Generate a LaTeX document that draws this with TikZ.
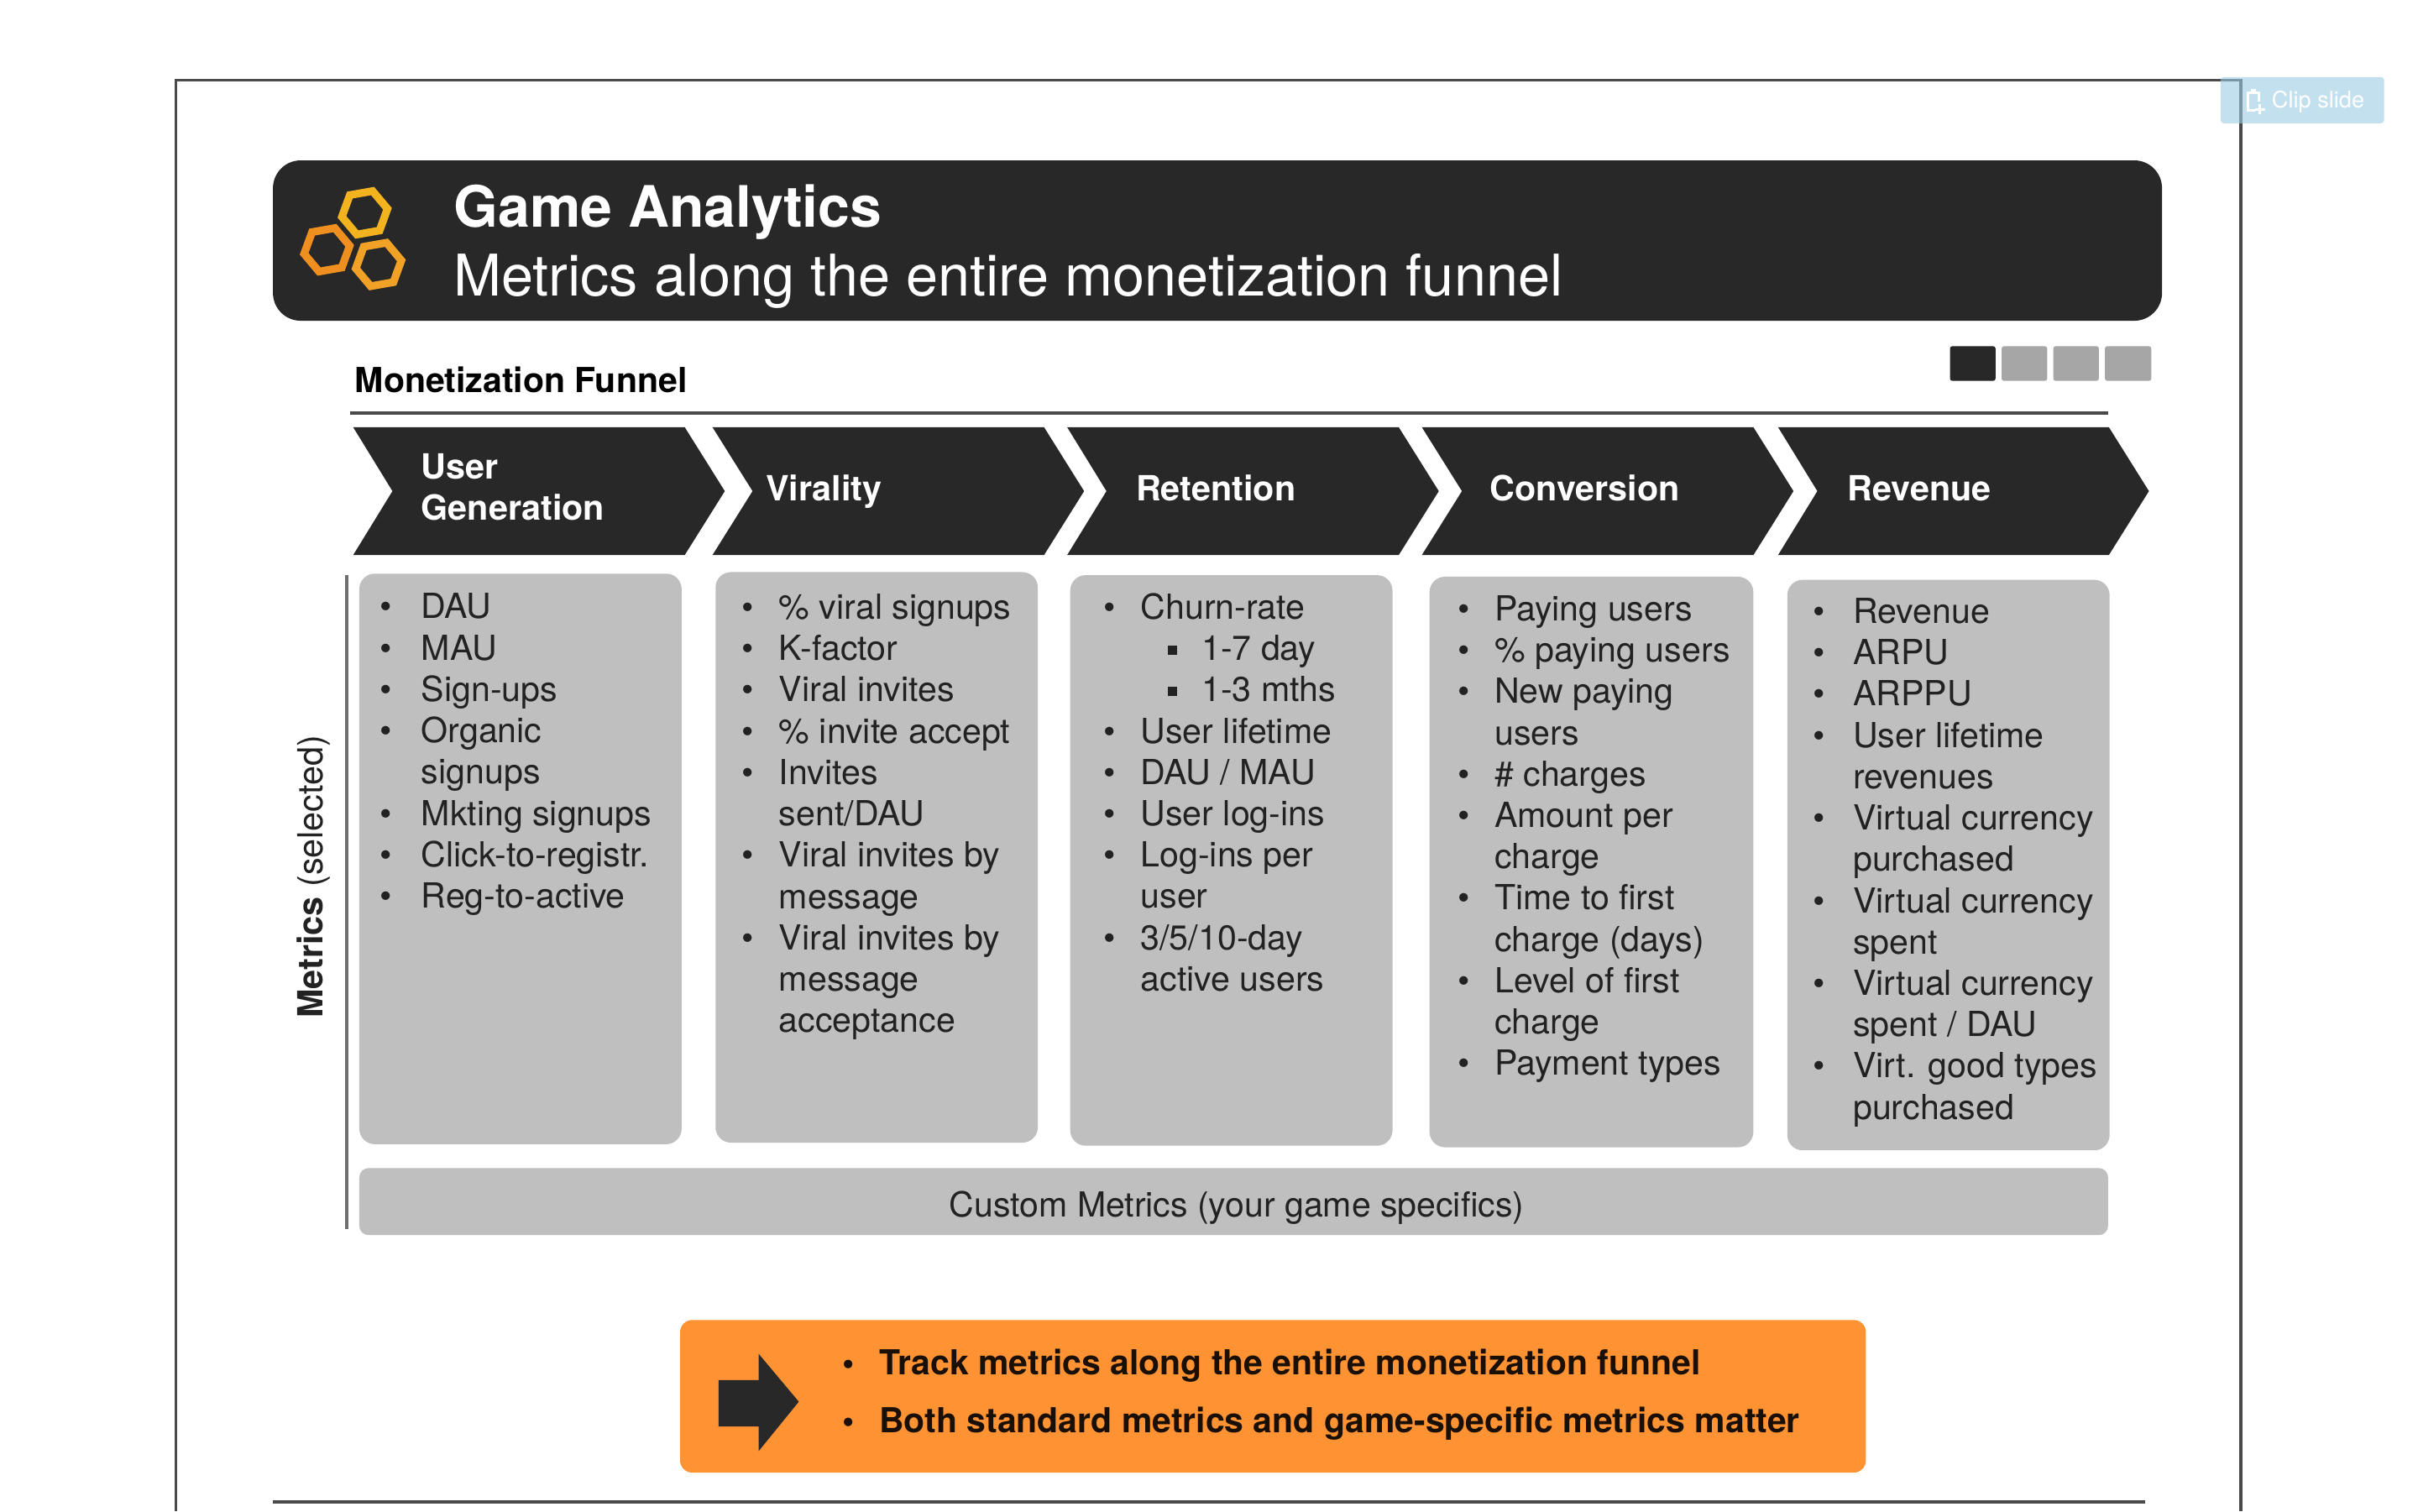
\documentclass[tikz,border=0pt]{standalone}
\usepackage{fontspec}
\setmainfont{TeX Gyre Heros}
\usetikzlibrary{shapes.geometric}
\definecolor{dk}{HTML}{282828}
\definecolor{gb}{HTML}{BFBFBF}
\definecolor{gs}{HTML}{A6A6A6}
\definecolor{og}{HTML}{FF9333}
\definecolor{txt}{HTML}{222222}
\definecolor{ln}{HTML}{4A4A4A}
\definecolor{clipc}{RGB}{155,203,227}
\newlength{\bulw}
\setlength{\bulw}{24pt}
\newcommand{\itm}{\llap{\makebox[\bulw][l]{\textbullet}}}
\newcommand{\subitm}{\hspace*{39.5pt}\llap{\makebox[22pt][l]{\raisebox{3.5pt}{\rule{6pt}{6pt}}}}}
\tikzset{
  x=1pt,y=-1pt,
  rulel/.style={draw=ln,line width=2pt},
  chev/.style={fill=dk},
  chevlabel/.style={text=white,inner sep=0pt,align=left,font=\fontsize{22.5}{26.5}\selectfont\bfseries},
  mbox/.style={fill=gb,rounded corners=10pt},
  listtext/.style={text=txt,inner sep=0pt,anchor=north west,align=left,font=\fontsize{22.4}{26.8}\selectfont},
  bw/.style={execute at begin node={\setlength{\bulw}{#1}}},
  hex/.style={regular polygon,regular polygon sides=6,minimum size=30pt,inner sep=0pt,line width=5pt,rotate=10},
  tab/.style={rounded corners=1.5pt},
  taketxt/.style={text=black!90!og,inner sep=0pt,anchor=base west,font=\fontsize{22.3}{26}\selectfont\bfseries},
}
\begin{document}
\begin{tikzpicture}
\useasboundingbox (0,0) rectangle (1568,980);
% slide frame
\draw[draw=ln,line width=2pt] (114,980) -- (114,52) -- (1453,52) -- (1453,980);
% header
\fill[dk,rounded corners=18pt] (177,104) rectangle (1402,208);
\node[hex,draw={rgb,255:red,242;green,179;blue,30}] (hexa) at (236.5,138) {};
\node[hex,draw={rgb,255:red,239;green,143;blue,31}] (hexb) at (212,162) {};
\node[hex,draw={rgb,255:red,241;green,161;blue,38}] (hexc) at (245.5,171.5) {};
\node[text=white,inner sep=0pt,anchor=base west,font=\fontsize{37}{40}\selectfont\bfseries] (title) at (294,147) {Game Analytics};
\node[text=white,inner sep=0pt,anchor=base west,font=\fontsize{37.25}{40}\selectfont] (subtitle) at (294,191.7) {Metrics along the entire monetization funnel};
% section heading
\node[text=black,inner sep=0pt,anchor=base west,font=\fontsize{22.35}{26}\selectfont\bfseries] (funnel) at (230,254.5) {Monetization Funnel};
\draw[rulel] (227,268) -- (1367,268);
\fill[dk,tab] (1264.5,224.5) rectangle (1294,247);
\fill[gs,tab] (1298,224.5) rectangle (1327.5,247);
\fill[gs,tab] (1331.5,224.5) rectangle (1361,247);
\fill[gs,tab] (1365,224.5) rectangle (1395,247);
% chevrons
\fill[chev] (229,277) -- (444,277) -- (470,318.5) -- (444,360) -- (229,360) -- (254.5,318.5) -- cycle;
\fill[chev] (462,277) -- (677,277) -- (703,318.5) -- (677,360) -- (462,360) -- (488,318.5) -- cycle;
\fill[chev] (692,277) -- (907,277) -- (933,318.5) -- (907,360) -- (692,360) -- (717.5,318.5) -- cycle;
\fill[chev] (922,277) -- (1137,277) -- (1163,318.5) -- (1137,360) -- (922,360) -- (948,318.5) -- cycle;
\fill[chev] (1153,277) -- (1367.5,277) -- (1393.5,318.5) -- (1367.5,360) -- (1153,360) -- (1178.5,318.5) -- cycle;
\node[chevlabel,anchor=west] (c1) at (273,316) {User\\Generation};
\node[chevlabel,anchor=base west] (c2) at (496.5,325) {Virality};
\node[chevlabel,anchor=base west] (c3) at (736.5,325) {Retention};
\node[chevlabel,anchor=base west] (c4) at (966,325) {Conversion};
\node[chevlabel,anchor=base west] (c5) at (1198,325) {Revenue};
% metric boxes
\fill[mbox] (233,372) rectangle (442,742);
\fill[mbox] (464,371) rectangle (673,741);
\fill[mbox] (694,373) rectangle (903,743);
\fill[mbox] (927,374) rectangle (1137,744);
\fill[mbox] (1159,376) rectangle (1368,746);
\fill[gb,rounded corners=6pt] (233,757.5) rectangle (1367,801);
\draw[draw=ln!80,line width=2pt] (225,373) -- (225,797);
\node[rotate=90,text=txt,inner sep=0pt,font=\fontsize{22.5}{26}\selectfont] (metrics) at (203.5,568.5) {\textbf{Metrics} (selected)};
\node[listtext,bw=27pt] (l1) at (273,384.7) {\itm DAU\\\itm MAU\\\itm Sign-ups\\\itm Organic\\signups\\\itm Mkting signups\\\itm Click-to-registr.\\\itm Reg-to-active};
\node[listtext] (l2) at (505,385) {\itm \% viral signups\\\itm K-factor\\\itm Viral invites\\\itm \% invite accept\\\itm Invites\\sent/DAU\\\itm Viral invites by\\message\\\itm Viral invites by\\message\\acceptance};
\node[listtext] (l3) at (739.5,384.5) {\itm Churn-rate\\\subitm 1-7 day\\\subitm 1-3 mths\\\itm User lifetime\\\itm DAU / MAU\\\itm User log-ins\\\itm Log-ins per\\user\\\itm 3/5/10-day\\active users};
\node[listtext] (l4) at (969,386) {\itm Paying users\\\itm \% paying users\\\itm New paying\\users\\\itm \# charges\\\itm Amount per\\charge\\\itm Time to first\\charge (days)\\\itm Level of first\\charge\\\itm Payment types};
\node[listtext,bw=26pt] (l5) at (1201.5,387.7) {\itm Revenue\\\itm ARPU\\\itm ARPPU\\\itm User lifetime\\revenues\\\itm Virtual currency\\purchased\\\itm Virtual currency\\spent\\\itm Virtual currency\\spent / DAU\\\itm Virt. good types\\purchased};
\node[text=txt,inner sep=0pt,anchor=base,font=\fontsize{22.35}{26}\selectfont] (custom) at (802,789) {Custom Metrics (your game specifics)};
% takeaway
\fill[og,rounded corners=8pt] (441,856) rectangle (1210,955);
\fill[dk] (466,895) -- (492,895) -- (492,878) -- (518,909) -- (492,941) -- (492,925) -- (466,925) -- cycle;
\node[taketxt] (t1) at (570,891.3) {\llap{\makebox[24pt][l]{\textbullet}}Track metrics along the entire monetization funnel};
\node[taketxt] (t2) at (570,929.3) {\llap{\makebox[24pt][l]{\textbullet}}Both standard metrics and game-specific metrics matter};
% bottom rule
\draw[rulel] (177,974) -- (1391,974);
% clip slide tab
\fill[clipc,opacity=.6,rounded corners=2pt] (1440,50) rectangle (1546,80);
\draw[white,line width=1.6pt] (1465,66) -- (1465,60) -- (1457.5,60) -- (1457.5,71.5) -- (1462.5,71.5);
\draw[white,line width=1.6pt] (1465.5,67.5) -- (1465.5,74) (1462.5,70.8) -- (1468.8,70.8);
\draw[white,line width=2.2pt] (1459.5,59) -- (1463,59);
\node[text=white,inner sep=0pt,anchor=base west,font=\fontsize{14.8}{18}\selectfont] (clip) at (1473,70) {Clip slide};
\end{tikzpicture}
\end{document}
